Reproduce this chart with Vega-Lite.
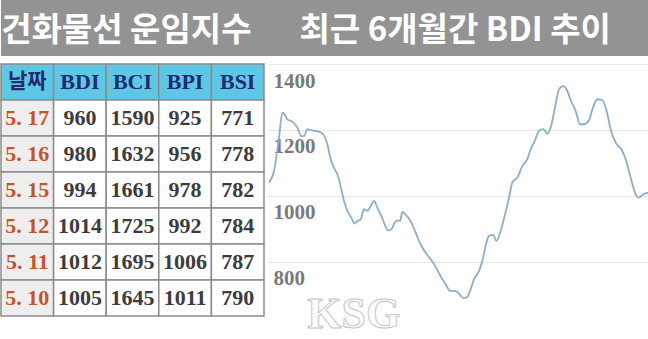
{
  "$schema": "https://vega.github.io/schema/vega-lite/v6.json",
  "padding": 0,
  "background": "white",
  "config": {"view": {"stroke": null}},
  "datasets": {
    "cells": [
      {"r": 0, "c": 0, "v": "날짜", "k": "hk"},
      {"r": 0, "c": 1, "v": "BDI", "k": "h"},
      {"r": 0, "c": 2, "v": "BCI", "k": "h"},
      {"r": 0, "c": 3, "v": "BPI", "k": "h"},
      {"r": 0, "c": 4, "v": "BSI", "k": "h"},
      {"r": 1, "c": 0, "v": "5. 17", "k": "d"},
      {"r": 1, "c": 1, "v": "960", "k": "n"},
      {"r": 1, "c": 2, "v": "1590", "k": "n"},
      {"r": 1, "c": 3, "v": "925", "k": "n"},
      {"r": 1, "c": 4, "v": "771", "k": "n"},
      {"r": 2, "c": 0, "v": "5. 16", "k": "d"},
      {"r": 2, "c": 1, "v": "980", "k": "n"},
      {"r": 2, "c": 2, "v": "1632", "k": "n"},
      {"r": 2, "c": 3, "v": "956", "k": "n"},
      {"r": 2, "c": 4, "v": "778", "k": "n"},
      {"r": 3, "c": 0, "v": "5. 15", "k": "d"},
      {"r": 3, "c": 1, "v": "994", "k": "n"},
      {"r": 3, "c": 2, "v": "1661", "k": "n"},
      {"r": 3, "c": 3, "v": "978", "k": "n"},
      {"r": 3, "c": 4, "v": "782", "k": "n"},
      {"r": 4, "c": 0, "v": "5. 12", "k": "d"},
      {"r": 4, "c": 1, "v": "1014", "k": "n"},
      {"r": 4, "c": 2, "v": "1725", "k": "n"},
      {"r": 4, "c": 3, "v": "992", "k": "n"},
      {"r": 4, "c": 4, "v": "784", "k": "n"},
      {"r": 5, "c": 0, "v": "5. 11", "k": "d"},
      {"r": 5, "c": 1, "v": "1012", "k": "n"},
      {"r": 5, "c": 2, "v": "1695", "k": "n"},
      {"r": 5, "c": 3, "v": "1006", "k": "n"},
      {"r": 5, "c": 4, "v": "787", "k": "n"},
      {"r": 6, "c": 0, "v": "5. 10", "k": "d"},
      {"r": 6, "c": 1, "v": "1005", "k": "n"},
      {"r": 6, "c": 2, "v": "1645", "k": "n"},
      {"r": 6, "c": 3, "v": "1011", "k": "n"},
      {"r": 6, "c": 4, "v": "790", "k": "n"}
    ],
    "bdi": [
      {"t": 15, "bdi": 1040}, {"t": 30, "bdi": 1075}, {"t": 45, "bdi": 1176}, {"t": 55, "bdi": 1252},
      {"t": 62, "bdi": 1247}, {"t": 70, "bdi": 1232}, {"t": 85, "bdi": 1225}, {"t": 100, "bdi": 1207},
      {"t": 112, "bdi": 1181}, {"t": 120, "bdi": 1181}, {"t": 130, "bdi": 1202}, {"t": 140, "bdi": 1199},
      {"t": 150, "bdi": 1197}, {"t": 165, "bdi": 1195}, {"t": 178, "bdi": 1186}, {"t": 190, "bdi": 1156},
      {"t": 200, "bdi": 1111}, {"t": 210, "bdi": 1085}, {"t": 222, "bdi": 1060}, {"t": 232, "bdi": 1020},
      {"t": 240, "bdi": 984}, {"t": 250, "bdi": 954}, {"t": 262, "bdi": 933}, {"t": 272, "bdi": 916},
      {"t": 280, "bdi": 923}, {"t": 290, "bdi": 928}, {"t": 300, "bdi": 959}, {"t": 310, "bdi": 954},
      {"t": 320, "bdi": 969}, {"t": 330, "bdi": 984}, {"t": 340, "bdi": 964}, {"t": 352, "bdi": 939},
      {"t": 362, "bdi": 913}, {"t": 372, "bdi": 895}, {"t": 382, "bdi": 898}, {"t": 392, "bdi": 918},
      {"t": 400, "bdi": 925}, {"t": 408, "bdi": 923}, {"t": 415, "bdi": 951}, {"t": 425, "bdi": 943},
      {"t": 440, "bdi": 923}, {"t": 455, "bdi": 888}, {"t": 470, "bdi": 852}, {"t": 485, "bdi": 827},
      {"t": 500, "bdi": 807}, {"t": 515, "bdi": 784}, {"t": 530, "bdi": 756}, {"t": 545, "bdi": 731},
      {"t": 558, "bdi": 711}, {"t": 570, "bdi": 711}, {"t": 580, "bdi": 708}, {"t": 590, "bdi": 696},
      {"t": 600, "bdi": 689}, {"t": 610, "bdi": 693}, {"t": 620, "bdi": 716}, {"t": 630, "bdi": 746},
      {"t": 645, "bdi": 772}, {"t": 655, "bdi": 802}, {"t": 665, "bdi": 848}, {"t": 675, "bdi": 878},
      {"t": 688, "bdi": 881}, {"t": 697, "bdi": 863}, {"t": 710, "bdi": 893}, {"t": 722, "bdi": 939},
      {"t": 735, "bdi": 994}, {"t": 745, "bdi": 1040}, {"t": 760, "bdi": 1055}, {"t": 775, "bdi": 1090},
      {"t": 790, "bdi": 1111}, {"t": 800, "bdi": 1141}, {"t": 812, "bdi": 1166}, {"t": 825, "bdi": 1197},
      {"t": 838, "bdi": 1202}, {"t": 850, "bdi": 1188}, {"t": 860, "bdi": 1207}, {"t": 872, "bdi": 1262},
      {"t": 885, "bdi": 1323}, {"t": 897, "bdi": 1333}, {"t": 910, "bdi": 1318}, {"t": 920, "bdi": 1290},
      {"t": 935, "bdi": 1257}, {"t": 948, "bdi": 1217}, {"t": 960, "bdi": 1217}, {"t": 975, "bdi": 1229},
      {"t": 985, "bdi": 1262}, {"t": 1000, "bdi": 1293}, {"t": 1015, "bdi": 1290}, {"t": 1028, "bdi": 1257},
      {"t": 1040, "bdi": 1202}, {"t": 1055, "bdi": 1161}, {"t": 1072, "bdi": 1141}, {"t": 1085, "bdi": 1111},
      {"t": 1100, "bdi": 1055}, {"t": 1115, "bdi": 1004}, {"t": 1125, "bdi": 994}, {"t": 1140, "bdi": 1006},
      {"t": 1160, "bdi": 1009}
    ]
  },
  "spacing": 7,
  "vconcat": [
    {
      "width": 648,
      "height": 56,
      "view": {"fill": "#939393", "stroke": null},
      "data": {"values": [{"t": "건화물선 운임지수\u3000 \u00a0최근 6개월간 BDI 추이"}]},
      "mark": {"type": "text", "font": "Noto Sans CJK KR", "fontWeight": "bold", "fontSize": 33, "color": "white", "align": "center", "baseline": "middle", "dx": -19, "dy": 3},
      "encoding": {"text": {"field": "t"}}
    },
    {
      "spacing": 0,
      "hconcat": [
        {
          "width": 263,
          "height": 252,
          "data": {"name": "cells"},
          "encoding": {
            "x": {"field": "c", "type": "ordinal", "axis": null, "scale": {"paddingInner": 0, "paddingOuter": 0}},
            "y": {"field": "r", "type": "ordinal", "axis": null, "scale": {"paddingInner": 0, "paddingOuter": 0}}
          },
          "layer": [
            {
              "mark": {"type": "rect", "stroke": "#8c8c8c", "strokeWidth": 1.5},
              "encoding": {"fill": {"field": "k", "type": "nominal", "scale": {"domain": ["hk", "h", "d", "n"], "range": ["#5fc7e6", "#5fc7e6", "#eeeeee", "#ffffff"]}, "legend": null}}
            },
            {
              "transform": [{"filter": "datum.k != 'hk'"}],
              "mark": {"type": "text", "font": "Liberation Serif", "fontWeight": "bold", "fontSize": 22},
              "encoding": {
                "text": {"field": "v"},
                "color": {"field": "k", "type": "nominal", "scale": {"domain": ["h", "d", "n"], "range": ["#1f2b6e", "#c0562c", "#3c3c3c"]}, "legend": null}
              }
            },
            {
              "transform": [{"filter": "datum.k == 'hk'"}],
              "mark": {"type": "text", "font": "Noto Sans CJK KR", "fontWeight": "bold", "fontSize": 21, "color": "#1f2b6e"},
              "encoding": {"text": {"field": "v"}}
            }
          ]
        },
        {
          "width": 385,
          "height": 276,
          "encoding": {
            "x": {"field": "t", "type": "quantitative", "scale": {"domain": [9, 1164], "nice": false, "zero": false}, "axis": null},
            "y": {"field": "bdi", "type": "quantitative", "scale": {"domain": [562, 1400], "nice": false, "zero": false},
              "axis": {"values": [800, 1000, 1200, 1400], "format": "d", "title": null, "grid": true, "gridColor": "#e6e6e6", "domain": false, "ticks": false, "tickSize": 0, "labelAlign": "left", "labelPadding": -6, "labelOffset": 17, "labelFont": "Liberation Serif", "labelFontWeight": "bold", "labelFontSize": 21, "labelColor": "#7a7a7a", "labelOverlap": false, "labelBaseline": "middle"}}
          },
          "layer": [
            {
              "data": {"name": "bdi"},
              "mark": {"type": "line", "color": "#8eadc6", "strokeWidth": 1.8, "interpolate": "monotone"}
            },
            {
              "data": {"values": [{"t": 130, "bdi": 638, "w": "KSG"}]},
              "mark": {"type": "text", "font": "Liberation Serif", "fontWeight": "bold", "fontSize": 44, "color": "white", "stroke": "#c4c4c4", "strokeWidth": 1, "align": "left", "baseline": "middle"},
              "encoding": {"text": {"field": "w"}}
            }
          ]
        }
      ]
    }
  ]
}
